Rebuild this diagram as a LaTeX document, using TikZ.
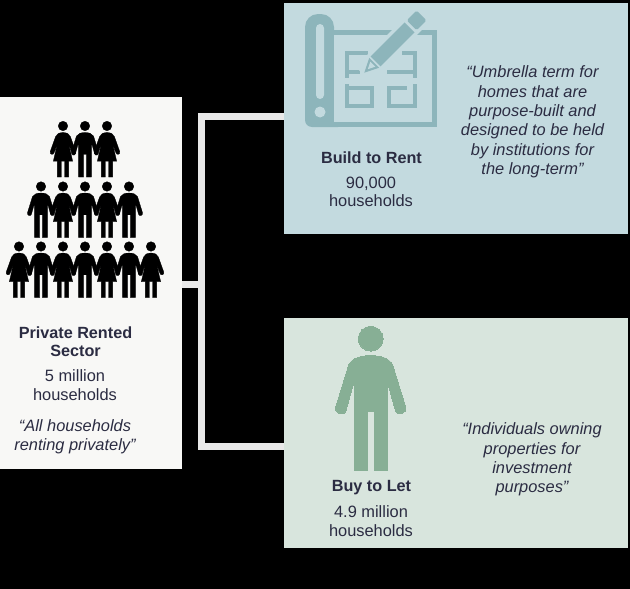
\documentclass[tikz,border=0pt]{standalone}
\usepackage{fontspec}
\setmainfont{Liberation Sans}
\definecolor{inktext}{HTML}{2B2C42}
\definecolor{psrfill}{HTML}{F8F8F6}
\definecolor{btrfill}{HTML}{C3DADF}
\definecolor{btricon}{HTML}{8DB5BB}
\definecolor{btlfill}{HTML}{D8E5DD}
\definecolor{btlicon}{HTML}{87AF95}
\definecolor{linkgrey}{HTML}{E9E9E9}
\tikzset{
  panel/.style={inner sep=0pt,minimum width=#1},
  txt/.style={text=inktext,font=\fontsize{16.4}{18.6}\selectfont,align=center,inner sep=0pt},
  title/.style={txt,font=\fontsize{16.2}{18}\selectfont\bfseries},
  quote/.style={txt,font=\fontsize{16.4}{19.4}\selectfont\itshape},
  link/.style={linkgrey,line width=7pt},
  plan/.style={btricon,line width=4pt},
  crowd/.style={black,scale=0.387,line width=0.3pt},
  man/.pic={
    \filldraw (0,0) circle (12.4);
    \filldraw (0,17) .. controls (-10,17) and (-18,19) .. (-22,26) -- (-35,68)
      .. controls (-36.5,75) and (-26,79) .. (-24.5,71) -- (-16.5,42) -- (-16.5,132) -- (-3.3,132) -- (-3.3,73)
      -- (3.3,73) -- (3.3,132) -- (16.5,132) -- (16.5,42) -- (24.5,71)
      .. controls (26,79) and (36.5,75) .. (35,68) -- (22,26) .. controls (18,19) and (10,17) .. (0,17) -- cycle;
  },
  woman/.pic={
    \filldraw (0,0) circle (12.4);
    \filldraw (0,17) .. controls (-10,17) and (-16,20) .. (-19,27) -- (-33,66)
      .. controls (-35,73) and (-25,77) .. (-23,69) -- (-14,44) -- (-25,91) -- (-14.5,91) -- (-14.5,132) -- (-4,132)
      -- (-4,91) -- (4,91) -- (4,132) -- (14.5,132) -- (14.5,91) -- (25,91) -- (14,44) -- (23,69)
      .. controls (25,77) and (35,73) .. (33,66) -- (19,27) .. controls (16,20) and (10,17) .. (0,17) -- cycle;
  }
}
\begin{document}
\begin{tikzpicture}[x=1pt,y=-1pt]
\useasboundingbox (0,0) rectangle (630,589);
\fill[black] (0,0) rectangle (630,589);
%panels
\node[panel=182pt,minimum height=372pt,fill=psrfill] (psr) at (91,283) {};
\node[panel=344pt,minimum height=231pt,fill=btrfill] (btr) at (456,118.5) {};
\node[panel=344pt,minimum height=230pt,fill=btlfill] (btl) at (456,433) {};
%links
\coordinate (hub) at (201.5,284);
\coordinate (bartop) at (201.5,116.5);
\coordinate (barbot) at (201.5,446.5);
\draw[link] (psr.east |- hub) to (hub);
\draw[link] (btr.west |- bartop) -- (bartop) -- (barbot) -- (btl.west |- barbot);
%people
%top row
\pic[crowd] at (63,126) {woman};
\pic[crowd] at (85,126) {man};
\pic[crowd] at (107,126) {woman};
%middle row
\pic[crowd] at (41,186.5) {man};
\pic[crowd] at (63,186.5) {woman};
\pic[crowd] at (85,186.5) {man};
\pic[crowd] at (107,186.5) {woman};
\pic[crowd] at (129,186.5) {man};
%bottom row
\pic[crowd] at (19,246.5) {woman};
\pic[crowd] at (41,246.5) {man};
\pic[crowd] at (63,246.5) {woman};
\pic[crowd] at (85,246.5) {man};
\pic[crowd] at (107,246.5) {woman};
\pic[crowd] at (129,246.5) {man};
\pic[crowd] at (151,246.5) {woman};
%big man
\pic[btlicon,line width=0pt] at (370.7,338.7) {man};
%blueprint
\fill[btricon,rounded corners=13pt] (305,70) |- (334,14) -- (334,70) -- cycle;
\fill[btricon,rounded corners=7pt] (305,50) |- (345,127) -- (345,50) -- cycle;
\fill[btricon] (334,30) rectangle (437,127);
\fill[btrfill] (334,35) rectangle (432,122);
\fill[btrfill,rounded corners=4pt] (316,24) rectangle (324,99);
\fill[btrfill] (320,112) circle (5.5);
%plan
\draw[plan] (368,53) -- (346.5,53) -- (346.5,78);
\draw[plan] (346.5,84) -- (346.5,105.5) -- (372,105.5) -- (372,86);
\draw[plan] (346.5,72) -- (360,72);
\draw[plan] (346.5,88) -- (372,88);
\draw[plan] (402,53) -- (414.5,53) -- (414.5,78);
\draw[plan] (414.5,84) -- (414.5,105.5) -- (389,105.5) -- (389,86);
\draw[plan] (387,72) -- (414.5,72);
\draw[plan] (389,88) -- (407,88);
%pencil
\begin{scope}[shift={(364.3,72.7)},rotate=45,y=1pt]
\fill[btrfill] (-2,-10.5) rectangle (84,10.5);
\fill[btricon] (0,0) -- (14,-7) -- (14,7) -- cycle;
\fill[btrfill] (5,0) -- (12,-3.5) -- (12,3.5) -- cycle;
\fill[btricon] (16,-7) -- (64,-7) -- (64,7) -- (16,7) -- cycle;
\fill[btricon,rounded corners=1.5pt] (67,-7) -- (81,-7) -- (81,7) -- (67,7) -- cycle;
\end{scope}
%text
\node[title] (psrname) at (75.5,342) {Private Rented\\Sector};
\node[txt] (psrcount) at (75,385) {5 million\\households};
\node[quote] (psrquote) at (75,437) {“All households\\renting privately”};
\node[title] (btrname) at (371.5,157.5) {Build to Rent};
\node[txt] (btrcount) at (371,192) {90,000\\households};
\node[quote] (btrquote) at (532.5,122) {“Umbrella term for\\homes that are\\purpose-built and\\designed to be held\\by institutions for\\the long-term”};
\node[title] (btlname) at (371.5,487.5) {Buy to Let};
\node[txt] (btlcount) at (371,521) {4.9 million\\households};
\node[quote] (btlquote) at (532,459.5) {“Individuals owning\\properties for\\investment\\purposes”};
\end{tikzpicture}
\end{document}
